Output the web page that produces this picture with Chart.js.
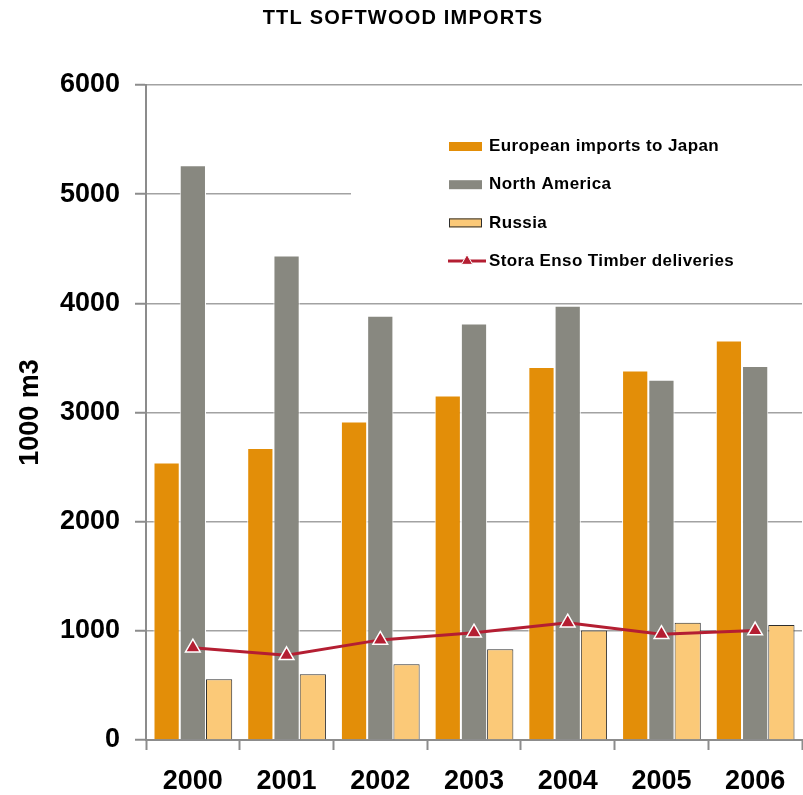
<!DOCTYPE html>
<html>
<head>
<meta charset="utf-8">
<script src="https://cdn.jsdelivr.net/npm/chart.js@4"></script>
<style>
  html, body { margin: 0; padding: 0; background: #fff; overflow: hidden; }
  #wrap { width: 812px; height: 795px; }
</style>
</head>
<body>
<div id="wrap"><canvas id="chart"></canvas></div>
<script>
const years = ['2000', '2001', '2002', '2003', '2004', '2005', '2006'];
const europeanToJapan = [2542, 2674, 2918, 3156, 3416, 3385, 3660];
const northAmerica = [5264, 4439, 3886, 3815, 3978, 3300, 3425];
const russia = [556, 602, 694, 831, 1002, 1075, 1054];
const storaEnsoTimber = [846, 776, 917, 983, 1075, 969, 1002];

const FONT = 'Arial, "Liberation Sans", sans-serif';
const axisGray = '#8c8c8c';

// legend sits in a white box inside the plot, covering the 5000 grid line
const boxLegend = {
    id: 'boxLegend',
    afterLayout(chart) {
        // the original title is set a little wider than plain Arial
        const tb = chart.titleBlock;
        if (tb && !tb._spaced) {
            const orig = tb.draw;
            tb.draw = function() {
                const c = this.ctx;
                c.save();
                c.letterSpacing = '1.2px';
                orig.apply(this, arguments);
                c.restore();
            };
            tb._spaced = true;
        }
    },
    beforeDatasetsDraw(chart) {
        const {ctx, chartArea} = chart;
        const x0 = chartArea.left + 205;
        const top = chartArea.top;
        ctx.save();
        ctx.fillStyle = '#fff';
        ctx.fillRect(x0, top + 35, chartArea.right - x0 + 10, 160);

        chart.data.datasets.forEach((ds, i) => {
            const y = top + 61.5 + i * 38.2;
            const sx = chartArea.left + 303;
            if (ds.type === 'line') {
                ctx.strokeStyle = ds.borderColor;
                ctx.lineWidth = 3;
                ctx.beginPath();
                ctx.moveTo(sx - 1, y);
                ctx.lineTo(sx + 37, y);
                ctx.stroke();
                ctx.fillStyle = ds.pointBackgroundColor;
                ctx.strokeStyle = ds.pointBorderColor;
                ctx.lineWidth = 1;
                ctx.beginPath();
                const r = 6.5;
                ctx.moveTo(sx + 18, y - r);
                ctx.lineTo(sx + 18 + r * 0.866, y + r * 0.5);
                ctx.lineTo(sx + 18 - r * 0.866, y + r * 0.5);
                ctx.closePath();
                ctx.fill();
                ctx.stroke();
            } else {
                ctx.fillStyle = ds.backgroundColor;
                ctx.fillRect(sx, y - 4.5, 33, 9);
                if (ds.label === 'Russia') {
                    ctx.strokeStyle = ds.borderColor;
                    ctx.lineWidth = 1;
                    ctx.strokeRect(sx + 0.5, y - 4, 32, 8);
                }
            }
            ctx.fillStyle = '#000';
            ctx.font = 'bold 17px ' + FONT;
            ctx.letterSpacing = '0.4px';
            ctx.textBaseline = 'middle';
            ctx.textAlign = 'left';
            ctx.fillText(ds.label, sx + 40, y);
            ctx.letterSpacing = '0px';
        });
        ctx.restore();
    }
};

const ctx = document.getElementById('chart').getContext('2d');
const chart = new Chart(ctx, {
    type: 'bar',
    data: {
        labels: years,
        datasets: [{
            label: 'European imports to Japan',
            data: europeanToJapan,
            backgroundColor: '#e38e08',
            borderColor: '#ffffff',
            borderWidth: 1,
            order: 1
        }, {
            label: 'North America',
            data: northAmerica,
            backgroundColor: '#888880',
            borderColor: '#ffffff',
            borderWidth: 1,
            order: 1
        }, {
            label: 'Russia',
            data: russia,
            backgroundColor: '#fbc978',
            borderColor: '#2e2e2e',
            borderWidth: 1,
            order: 1
        }, {
            type: 'line',
            label: 'Stora Enso Timber deliveries',
            data: storaEnsoTimber,
            borderColor: '#b41e32',
            borderWidth: 3,
            tension: 0,
            pointStyle: 'triangle',
            pointRadius: 8.5,
            pointBackgroundColor: '#b41e32',
            pointBorderColor: '#ffffff',
            pointBorderWidth: 1.5,
            order: 0
        }]
    },
    options: {
        responsive: true,
        maintainAspectRatio: false,
        animation: false,
        categoryPercentage: 0.84,
        barPercentage: 1,
        layout: {
            padding: {left: 0, right: 6, top: 0, bottom: 0}
        },
        plugins: {
            legend: {display: false},
            tooltip: {enabled: false},
            title: {
                display: true,
                text: 'TTL SOFTWOOD IMPORTS',
                color: '#000',
                font: {family: FONT, size: 20, weight: 'bold'},
                padding: {top: 6, bottom: 55}
            }
        },
        scales: {
            x: {
                grid: {
                    drawOnChartArea: false,
                    tickLength: 10,
                    tickColor: axisGray,
                    tickWidth: 2
                },
                border: {color: axisGray, width: 2},
                ticks: {
                    color: '#000',
                    padding: 15,
                    font: {family: FONT, size: 27, weight: 'bold'}
                },
                afterFit(scale) { scale.height = 55; }
            },
            y: {
                min: 0,
                max: 6000,
                ticks: {
                    stepSize: 1000,
                    color: '#000',
                    padding: 15,
                    font: {family: FONT, size: 27, weight: 'bold'},
                    callback: (v) => String(v)
                },
                grid: {
                    color: '#a2a2a2',
                    lineWidth: 1.5,
                    tickLength: 11,
                    tickColor: axisGray,
                    tickWidth: 2
                },
                border: {color: axisGray, width: 2},
                title: {
                    display: true,
                    text: '1000 m3',
                    color: '#000',
                    font: {family: FONT, size: 27, weight: 'bold'},
                    padding: {top: 14, bottom: 0}
                },
                afterFit(scale) { scale.width = 146; }
            }
        }
    },
    plugins: [boxLegend]
});
</script>
</body>
</html>
